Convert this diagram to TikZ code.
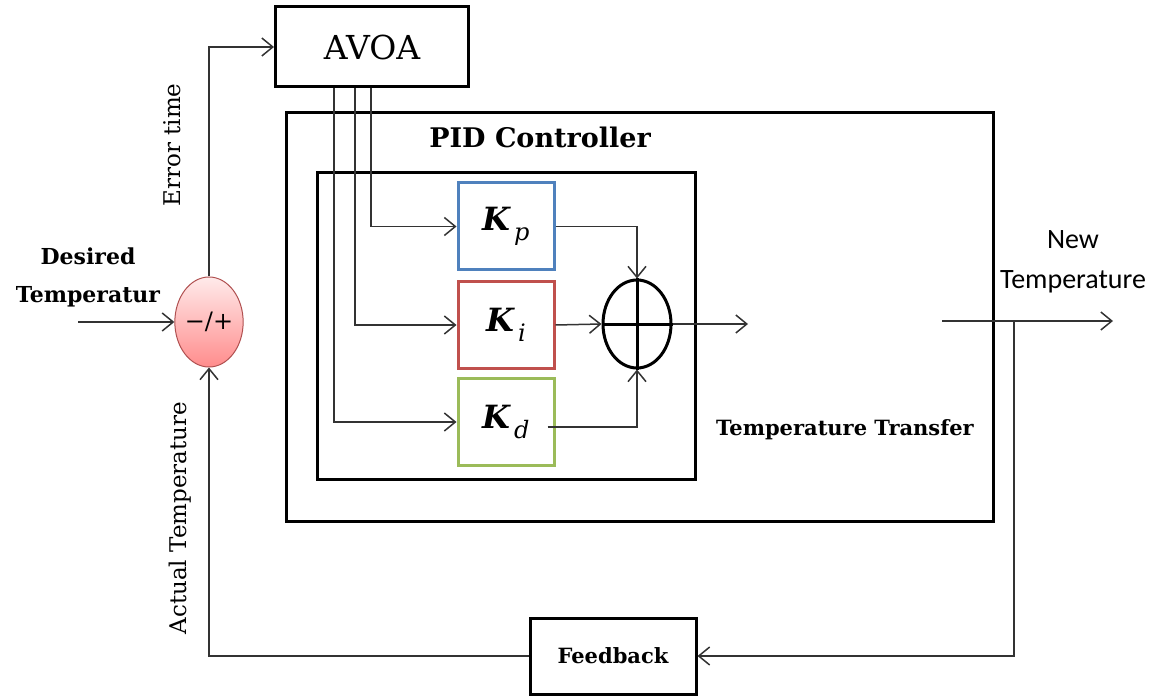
\documentclass[tikz,border=0pt]{standalone}
\usepackage{fontspec}
\setmainfont{DejaVu Serif}
\newfontfamily\calib{Carlito}
\usetikzlibrary{arrows.meta,shapes.geometric}
\tikzset{every picture/.append style={font=\fontsize{23}{38}\selectfont}}
\definecolor{kpblue}{HTML}{4F81BD}
\definecolor{kired}{HTML}{C0504D}
\definecolor{kdgreen}{HTML}{9BBB59}
\definecolor{cmpedge}{HTML}{B05050}
\newcommand{\gainK}[1]{{\bfseries\itshape K}\raisebox{-0.3em}{\fontsize{24}{24}\selectfont\itshape\,#1}}

\begin{document}
\begin{tikzpicture}[x=1pt,y=-1pt,
    blk/.style={draw,line width=3pt,inner sep=0pt},
    gain/.style={blk,minimum width=96pt,minimum height=87pt,font=\fontsize{32}{32}\selectfont},
    boldlbl/.style={font=\bfseries\fontsize{#1}{38}\selectfont},
    wire/.style={line width=1.5pt,black!80},
    arr/.style={wire,-{Straight Barb[length=11pt,width=18pt]}}]
  \useasboundingbox (0,0) rectangle (1155,700);
  % blocks
  \node[blk,minimum width=193pt,minimum height=80pt,font=\fontsize{33}{33}\selectfont] (avoa) at (372,47) {AVOA};
  \node[blk,minimum width=707pt,minimum height=408pt] (pid) at (639.5,317) {};
  \node[boldlbl=27] (pidtxt) at (540,137) {PID Controller};
  \node[blk,minimum width=378pt,minimum height=306pt] (ctl) at (506,326) {};
  \node[gain,draw=kpblue] (kp) at (506,226.5) {\gainK{p}};
  \node[gain,draw=kired] (ki) at (506,325) {\gainK{i}};
  \node[gain,draw=kdgreen] (kd) at (506,422) {\gainK{d}};
  \node[blk,ellipse,minimum width=68pt,minimum height=88pt] (sum) at (637,324) {};
  \draw[line width=3pt] (sum.north) -- (sum.south) (sum.west) -- (sum.east);
  \node[ellipse,draw=cmpedge,line width=1pt,top color=red!8,bottom color=red!45,
        minimum width=66pt,minimum height=90pt,inner sep=0pt,font=\fontsize{24}{24}\selectfont] (cmp) at (209,322) {\raisebox{-6pt}{−/+}};
  \node[blk,minimum width=166pt,minimum height=76pt,boldlbl=21] (fb) at (613,656) {Feedback};
  % labels
  \node[align=center,boldlbl=22] (desired) at (88,277) {Desired\\Temperatur};
  \node[rotate=90] (errtxt) at (172,145) {Error time};
  \node[rotate=90] (acttxt) at (180,518) {Actual Temperature};
  \node[align=center,font=\calib\fontsize{28}{40}\selectfont] (newtxt) at (1073,262) {New\\Temperature};
  \node[boldlbl=21] (tftxt) at (845,430) {Temperature Transfer};
  % connectors
  \coordinate (inp) at (78,322);
  \coordinate (sumout) at (748,324);
  \coordinate (tfout) at (942,321);
  \coordinate (newout) at (1113,321);
  \coordinate (tap) at (1014,321);
  \draw[arr] (inp) -- (cmp.west);
  \draw[arr] (cmp.north) |- (avoa.west);
  \draw[arr] ([xshift=-1pt]avoa.south) |- (kp.west);
  \draw[arr] ([xshift=-17pt]avoa.south) |- (ki.west);
  \draw[arr] ([xshift=-38pt]avoa.south) |- (kd.west);
  \draw[arr] (kp.east) -| (sum.north);
  \draw[arr] (ki.east) -- (sum.west);
  \draw[arr] ([xshift=-8pt,yshift=-5pt]kd.east) -| (sum.south);
  \draw[arr] (sum.east) -- (sumout);
  \draw[arr] (tfout) -- (newout);
  \draw[arr] (tap) |- (fb.east);
  \draw[arr] (fb.west) -| (cmp.south);
\end{tikzpicture}
\end{document}
